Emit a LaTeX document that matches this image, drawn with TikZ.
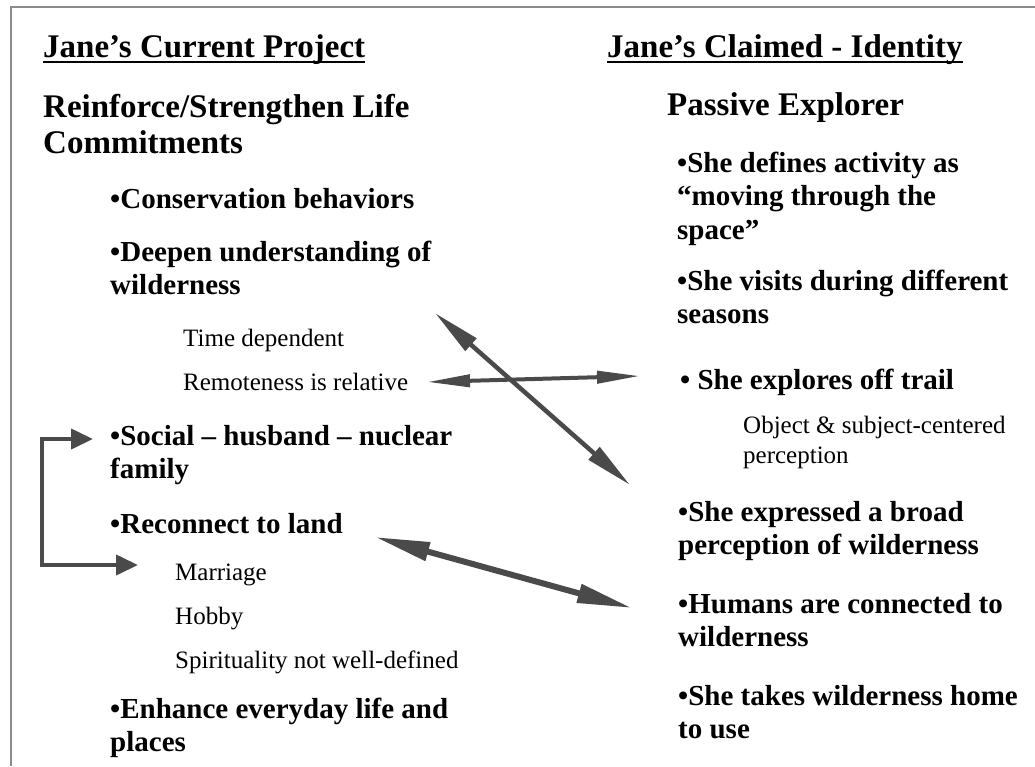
\documentclass[tikz,border=0pt]{standalone}
\usepackage{fontspec}
\setmainfont{Liberation Serif}
\usetikzlibrary{arrows.meta}
\definecolor{arr}{HTML}{4A4A4A}
\definecolor{frame}{HTML}{8C8C8C}
\begin{document}
\begin{tikzpicture}[x=1pt,y=-1pt,
  head/.style={anchor=base west,inner sep=0,font=\fontsize{33}{36}\selectfont\bfseries},
  item/.style={anchor=base west,inner sep=0,align=left,font=\fontsize{29}{33.5}\selectfont\bfseries},
  sub/.style={anchor=base west,inner sep=0,align=left,font=\fontsize{25}{30}\selectfont},
  uline/.style={line width=2pt},
  dblh/.style={draw=arr,line width=4pt,{Triangle[length=43pt,width=12pt]}-{Triangle[length=43pt,width=12pt]}},
  dbld/.style={draw=arr,line width=4.5pt,{Triangle[length=48pt,width=16pt]}-{Triangle[length=48pt,width=16pt]}},
  dbll/.style={draw=arr,line width=6pt,{Triangle[length=55pt,width=18pt]}-{Triangle[length=55pt,width=18pt]}},
  elbow/.style={draw=arr,line width=4pt,line join=miter,{Triangle[length=22pt,width=20pt]}-{Triangle[length=22pt,width=20pt]}},
]
\useasboundingbox (0,0) rectangle (1035,766);
% frame edges
\coordinate (f0) at (11,7);
\coordinate (f1) at (1035,7);
\coordinate (f2) at (11,766);
\draw[frame,line width=2.5pt] (f1) -- (f0) -- (f2);

% left column (multi-line nodes are placed by the baseline of their last line)
\node[head] (tl) at (43,57) {Jane’s Current Project};
\draw[uline] ([yshift=-5pt]tl.base west) -- ([yshift=-5pt]tl.base east);
\node[head,align=left] (rl) at (43,153) {Reinforce/Strengthen Life\\Commitments};
\node[item] (cons) at (110,208) {•Conservation behaviors};
\node[item] (deep) at (110,294.5) {•Deepen understanding of\\wilderness};
\node[sub] (time) at (183,346) {Time dependent};
\node[sub] (remo) at (183,390) {Remoteness is relative};
\node[item] (soc) at (110,478.5) {•Social – husband – nuclear\\family};
\node[item] (rec) at (110,533) {•Reconnect to land};
\node[sub] (mar) at (175,580) {Marriage};
\node[sub] (hob) at (175,624) {Hobby};
\node[sub] (spi) at (175,668) {Spirituality not well-defined};
\node[item] (enh) at (110,751.5) {•Enhance everyday life and\\places};

% right column
\node[head] (tr) at (607,57) {Jane’s Claimed - Identity};
\draw[uline] ([yshift=-5pt]tr.base west) -- ([yshift=-5pt]tr.base east);
\node[head] (pe) at (667,115) {Passive Explorer};
\node[item] (def) at (677,239) {•She defines activity as\\“moving through the\\space”};
\node[item] (vis) at (677,323.5) {•She visits during different\\seasons};
\node[item] (exp) at (680,389) {• She explores off trail};
\node[sub] (obj) at (743,463) {Object \& subject-centered\\perception};
\node[item] (bro) at (678,554.5) {•She expressed a broad\\perception of wilderness};
\node[item] (hum) at (678,646.5) {•Humans are connected to\\wilderness};
\node[item] (tak) at (678,738.5) {•She takes wilderness home\\to use};

% connectors
\coordinate (hA) at (427,382);
\coordinate (hB) at (640,376);
\coordinate (dA) at (435,313);
\coordinate (dB) at (630,485);
\coordinate (lA) at (375,537);
\coordinate (lB) at (632,608);
\coordinate (eT) at (93,439);
\coordinate (eM) at (42,500);
\coordinate (eB) at (138,565);
\draw[dblh] (hA) -- (hB);
\draw[dbld] (dA) -- (dB);
\draw[dbll] (lA) -- (lB);
\draw[elbow] (eT) -| (eM) |- (eB);
\end{tikzpicture}
\end{document}
